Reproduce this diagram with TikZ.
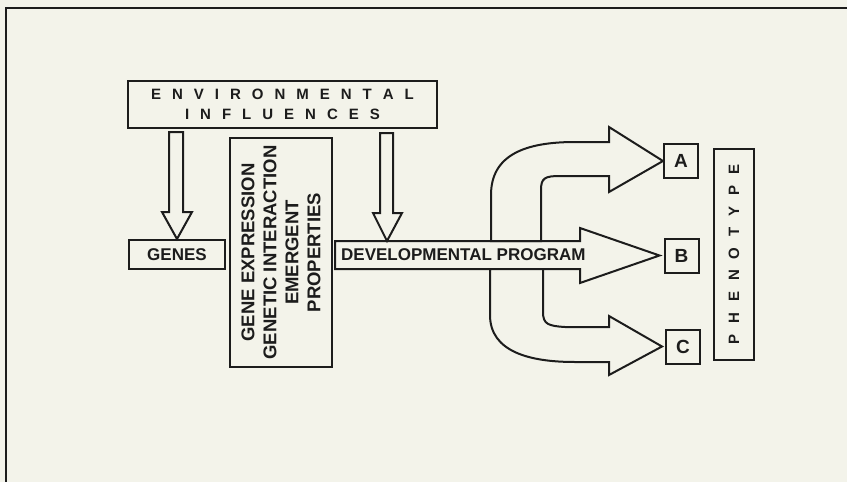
\documentclass[tikz,border=0pt]{standalone}
\usepackage{fontspec}
\setmainfont{Liberation Sans}
\usetikzlibrary{positioning,calc}
\definecolor{paper}{RGB}{243,243,234}
\definecolor{ink}{RGB}{28,28,28}
\tikzset{box/.style={draw=ink,line width=2pt,fill=paper,inner sep=0pt,text=ink}}
\tikzset{hollow/.style={draw=ink,line width=2pt,fill=paper,line join=miter}}
\tikzset{letter/.style={box,minimum width=34pt,minimum height=34pt,font=\fontsize{19}{19}\selectfont\bfseries}}
\tikzset{spaced/.style={font=\fontsize{15}{20}\selectfont\bfseries,execute at begin node={\spaceskip=11pt\relax}}}

\begin{document}
\begin{tikzpicture}[x=1pt,y=-1pt]
    \fill[paper] (0,0) rectangle (847,482);
    \useasboundingbox (0,0) rectangle (847,482);
    \draw[ink,line width=2.4pt] (6,482) -- (6,8) -- (847,8);

     \node[box,spaced,align=center,minimum width=309pt,minimum height=47pt] (env) at (282.5,104.5) {E N V I R O N M E N T A L\\I N F L U E N C E S};
     \node[box,minimum width=96pt,minimum height=29pt,font=\fontsize{17}{17}\selectfont\bfseries] (genes) at (177,254.5) {GENES};
     \node[box,rotate=90,align=center,minimum width=229pt,minimum height=102pt,font=\fontsize{18.5}{22}\selectfont\bfseries] (gei) at (281,252.5) {GENE EXPRESSION\\GENETIC INTERACTION\\EMERGENT\\PROPERTIES};

     \node[letter] (A) at (681,161) {A};
     \node[letter] (B) at (681.5,255.5) {B};
     \node[letter] (C) at (683,346.5) {C};
     \node[box,spaced,rotate=90,minimum width=211pt,minimum height=40pt] (pheno) at (734,254.5) {P H E N O T Y P E};

        \draw[hollow] (335,241) -- (580,241) -- (580,228) -- ([xshift=-4pt]B.west) -- (580,283) -- (580,269) -- (335,269) -- cycle;
        \draw[hollow] (491,241) -- (491,195) .. controls (491,155) and (525,142) .. (575,142) -- (609,142) -- (609,127) -- (A.west) -- (609,192) -- (609,176) -- (560,176) .. controls (545,176) and (541,178) .. (541,190) -- (541,241) -- cycle;
        \draw[hollow] (490,269) -- (490,315) .. controls (490,352) and (530,362) .. (575,362) -- (609,362) -- (609,375) -- ([xshift=-3pt]C.west) -- (609,316) -- (609,327) -- (565,327) .. controls (548,326) and (543,324) .. (543,312) -- (543,269) -- cycle;
     \node[anchor=west,text=ink,inner sep=0pt,font=\fontsize{17}{17}\selectfont\bfseries] (dev) at (341,255) {DEVELOPMENTAL PROGRAM};

        \draw[hollow] (genes.north) -- ++(-15,-27) -- ++(7,0) -- ++(0,-80) -- ++(14,0) -- ++(0,80) -- ++(9,0) -- cycle;
        \draw[hollow] (387,241) -- ++(-14,-28) -- ++(7,0) -- ++(0,-80) -- ++(13,0) -- ++(0,80) -- ++(9,0) -- cycle;
\end{tikzpicture}
\end{document}
